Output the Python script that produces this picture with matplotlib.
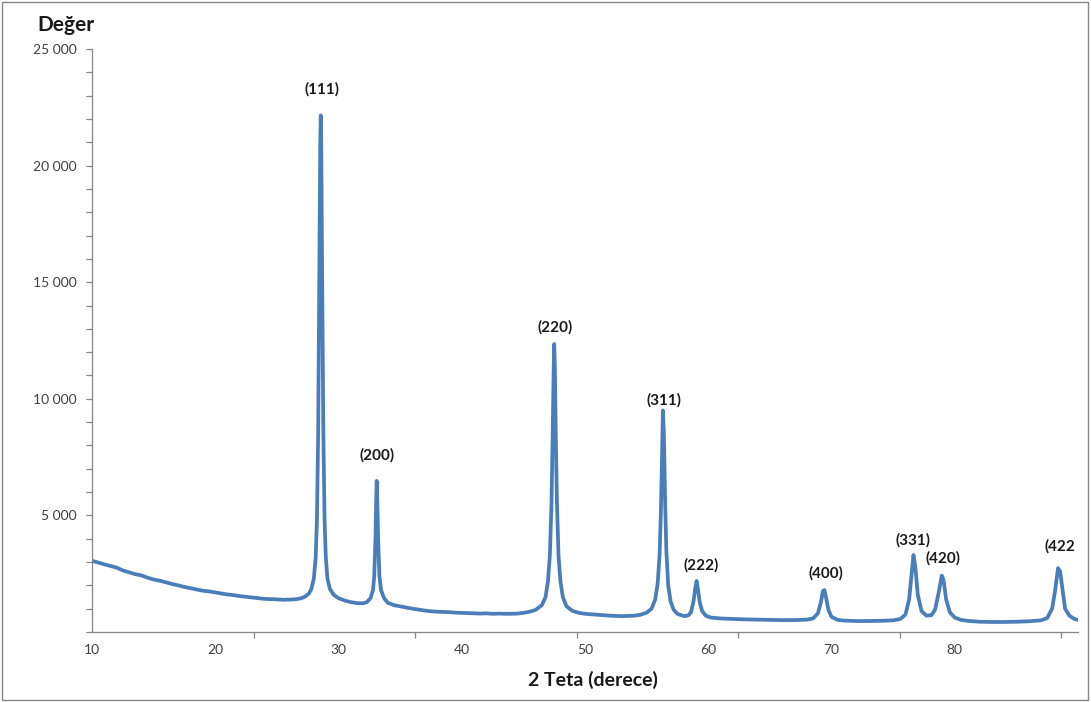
import matplotlib
matplotlib.use("Agg")
import matplotlib.pyplot as plt
from matplotlib.patches import Rectangle
from matplotlib.ticker import FixedLocator, FuncFormatter, MultipleLocator
from matplotlib.transforms import Bbox, TransformedBbox

plt.rcParams['font.family'] = ['Lato', 'DejaVu Sans']

# ---- data (2-theta in degrees, intensity) ----
two_theta = [
    10.0, 10.5, 11.0, 11.5, 12.0, 12.5, 13.0, 13.5, 14.0, 14.5, 15.0, 15.5,
    16.0, 16.5, 17.0, 17.5, 18.0, 18.5, 19.0, 19.5, 20.0, 20.5, 21.0, 21.5,
    22.0, 22.5, 23.0, 23.5, 24.0, 24.5, 25.0, 25.5, 26.0, 26.5, 27.0,
    27.3, 27.6, 27.8, 28.0, 28.15, 28.25, 28.35, 28.45, 28.52, 28.56, 28.6,
    28.67, 28.77, 28.87, 28.97, 29.1, 29.3, 29.6, 30.0, 30.5, 31.0, 31.5,
    32.0, 32.3, 32.6, 32.8, 32.9, 33.0, 33.05, 33.1, 33.15, 33.22, 33.32,
    33.45, 33.7, 34.0, 34.5, 35.0, 35.5, 36.0, 36.5, 37.0, 37.5, 38.0, 38.5,
    39.0, 39.5, 40.0, 40.5, 41.0, 41.5, 42.0, 42.5, 43.0, 43.5, 44.0, 44.5,
    45.0, 45.5, 46.0, 46.5, 46.8, 47.0, 47.15, 47.28, 47.38, 47.45, 47.5,
    47.55, 47.62, 47.72, 47.85, 48.0, 48.2, 48.5, 49.0, 49.5, 50.0, 50.5,
    51.0, 51.5, 52.0, 52.5, 53.0, 53.5, 54.0, 54.5, 55.0, 55.4, 55.7, 55.9,
    56.05, 56.15, 56.25, 56.32, 56.4, 56.5, 56.6, 56.75, 56.95, 57.2, 57.5,
    57.8, 58.1, 58.4, 58.6, 58.8, 58.95, 59.05, 59.15, 59.3, 59.5, 59.8,
    60.2, 61.0, 62.0, 63.0, 64.0, 65.0, 66.0, 67.0, 68.0, 68.5, 68.9, 69.15,
    69.3, 69.42, 69.55, 69.75, 70.0, 70.5, 71.0, 72.0, 73.0, 74.0, 75.0,
    75.6, 76.0, 76.3, 76.5, 76.65, 76.8, 77.0, 77.3, 77.7, 78.1, 78.4, 78.7,
    78.95, 79.1, 79.3, 79.6, 80.0, 80.5, 81.0, 82.0, 83.0, 84.0, 85.0, 86.0,
    87.0, 87.5, 87.9, 88.15, 88.38, 88.55, 88.75, 88.95, 89.3, 89.7, 90.0,
]
intensity = [
    3050, 2980, 2900, 2830, 2760, 2640, 2560, 2480, 2430, 2330, 2250, 2200,
    2130, 2060, 2000, 1930, 1880, 1820, 1770, 1740, 1700, 1650, 1610, 1580,
    1540, 1510, 1480, 1450, 1420, 1410, 1400, 1380, 1390, 1400, 1450,
    1520, 1650, 1850, 2300, 3200, 4800, 8500, 15500, 21000, 22150, 21000,
    15500, 8500, 4800, 3200, 2300, 1850, 1600, 1450, 1350, 1280, 1240,
    1230, 1280, 1450, 1800, 2400, 4000, 5500, 6480, 5600, 3900, 2400,
    1800, 1450, 1250, 1150, 1100, 1050, 1000, 960, 920, 890, 870, 860,
    850, 830, 820, 810, 800, 790, 800, 780, 790, 780, 780, 790,
    820, 870, 950, 1150, 1500, 2200, 3300, 5500, 8500, 11000, 12350,
    11500, 8800, 5600, 3300, 2200, 1500, 1100, 900, 820, 780, 760,
    740, 720, 700, 690, 680, 690, 700, 740, 830, 1000, 1400, 2100,
    3300, 5000, 7500, 9500, 8500, 5600, 3500, 2000, 1300, 950, 780,
    720, 680, 720, 850, 1300, 1900, 2190, 1900, 1300, 900, 700,
    620, 580, 560, 540, 530, 520, 510, 510, 530, 580, 800, 1300,
    1750, 1800, 1500, 950, 650, 520, 490, 470, 470, 480, 500,
    560, 750, 1400, 2500, 3300, 2800, 1600, 900, 700, 720, 950, 1700,
    2420, 2200, 1400, 850, 620, 520, 480, 440, 430, 430, 440, 460,
    500, 600, 1000, 1800, 2740, 2600, 1800, 1000, 700, 560, 520,
]

peak_labels = ["(111)", "(200)", "(220)", "(311)", "(222)", "(400)", "(331)", "(420)", "(422)"]
peak_label_x = [28.65, 33.11, 47.55, 56.39, 59.39, 69.53, 76.59, 79.02, 88.72]
peak_label_y = [23280, 7590, 13080, 9950, 2870, 2530, 3945, 3170, 3690]

x_tick_values = [10, 20, 30, 40, 50, 60, 70, 80]
x_mark_positions = [10, 23.11, 36.22, 49.33, 62.44, 75.55, 88.66]
y_tick_values = [0, 5000, 10000, 15000, 20000, 25000]

# ---- figure ----
W, H = 1091, 702
fig = plt.figure(figsize=(W / 100, H / 100), dpi=100)
ax = fig.add_axes([92 / W, 1 - 632 / H, (1078 - 92) / W, (632 - 49) / H])

ax.plot(two_theta, intensity, color='#4A7EBB', lw=2.7, solid_joinstyle='round')

ax.set_xlim(10, 90)
ax.set_ylim(0, 25000)

grey = '#868686'
for s in ['top', 'right']:
    ax.spines[s].set_visible(False)
for s in ['left', 'bottom']:
    ax.spines[s].set_color(grey)
    ax.spines[s].set_linewidth(0.9)

ax.xaxis.set_major_locator(FixedLocator(x_tick_values))
ax.xaxis.set_minor_locator(FixedLocator(x_mark_positions))
ax.tick_params(axis='x', which='major', length=0, pad=9, labelsize=10, labelcolor='#404040')
ax.tick_params(axis='x', which='minor', length=4, width=0.9, color=grey, direction='out')

ax.yaxis.set_major_locator(FixedLocator(y_tick_values))
ax.yaxis.set_minor_locator(MultipleLocator(1000))
ax.yaxis.set_major_formatter(FuncFormatter(lambda v, p: f"{int(v):,}".replace(",", " ") if v > 0 else ""))
ax.tick_params(axis='y', which='both', length=4, width=0.9, color=grey, direction='out')
ax.tick_params(axis='y', which='major', pad=7, labelsize=10, labelcolor='#404040')

clip = TransformedBbox(Bbox([[0, 0], [1075 / W, 1]]), fig.transFigure)
for lab, lx, ly in zip(peak_labels, peak_label_x, peak_label_y):
    t = ax.text(lx, ly, lab, ha='center', va='center', fontsize=11,
                fontweight='bold', color='#1a1a1a', clip_on=True)
    t.set_clip_box(clip)

fig.text(37 / W, 1 - 25 / H, "Değer", ha='left', va='center', fontsize=15,
         fontweight='bold', color='#1a1a1a')
fig.text(593 / W, 1 - 680 / H, "2 Teta (derece)", ha='center', va='center',
         fontsize=14, fontweight='bold', color='#1a1a1a')

fig.patches.append(Rectangle((2 / W, 2 / H), (1088 - 2) / W, (700 - 2) / H,
                             transform=fig.transFigure, fill=False,
                             edgecolor=grey, lw=1))

fig.savefig("out.png", dpi=100)
